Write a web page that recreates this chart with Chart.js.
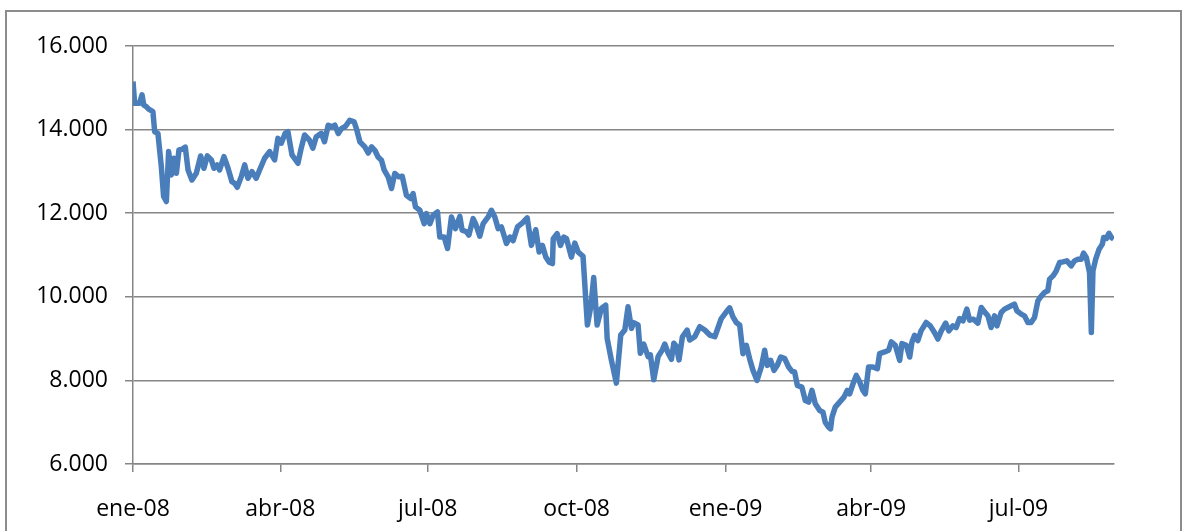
<!DOCTYPE html>
<html>
<head>
<meta charset="utf-8">
<script src="https://cdn.jsdelivr.net/npm/chart.js@4"></script>
<style>
  html, body { margin: 0; padding: 0; background: #fff; }
  #wrap { position: relative; width: 1185px; height: 531px; overflow: hidden; }
  #frame { position: absolute; left: 5px; top: 10px; width: 1173px; height: 540px; border: 2px solid #8c8c8c; }
  #chart { position: absolute; left: 0; top: 0; }
</style>
</head>
<body>
<div id="wrap">
  <div id="frame"></div>
  <canvas id="chart" width="1185" height="531"></canvas>
</div>
<script>
// days counted from 1 Jan 2008
const days = [
  0, 1, 4, 5.6, 6.6, 8.2, 9.7, 12.3, 13.4, 15.4, 17.5, 18.9, 20.6, 22, 23.7, 25.3, 26.8, 28.4, 30.3, 32.3,
  34, 36.4, 39.1, 41.8, 43.8, 45.9, 48.4, 50, 52, 53.5, 56.2, 58.7, 61.1, 62.8, 64.4, 66.9, 69, 71, 73.5, 76.1,
  78.2, 81.3, 84.4, 87.5, 89.5, 91.6, 94, 95.7, 98.2, 101.9, 103.9, 106, 109, 111.1, 113.2, 116.3, 118.3,
  120.6, 123, 124.7, 126.8, 128.8, 131.3, 133.9, 136.6, 138, 140.2, 143.2, 145.3, 147.4, 149.4, 151.4, 153.5,
  155.2, 157.6, 159.7, 161.7, 164.2, 166.3, 168.9, 171.6, 173, 174.5, 177.2, 179.9, 181.3, 183.4, 185.4, 188.1,
  189.5, 192.2, 194.3, 196.7, 199.2, 201.9, 203.3, 206, 207.5, 210.1, 211.6, 214.2, 216.3, 219.4, 221.4, 223.5,
  225.6, 227.6, 230.7, 232.8, 234.8, 237.5, 240,
  241, 243.5, 246.1, 248.8, 250.9, 252.9, 255, 257, 259.1, 259.6, 262, 264.1, 266.1, 267.8, 270.8, 272.9, 275,
  278, 280.7, 282.8, 284.6, 286.7, 289.3, 292, 292.9, 295.5, 298.6, 301.3, 303.8, 305.8, 307.9, 309.3, 312,
  313.4, 315.5, 318.2, 319.6, 321.7, 324.4, 327, 328.5, 330.6, 332.6, 334.1, 335.7, 337.3, 339.4, 342.3, 343.9,
  347, 350.1, 353.2, 356.3, 359.4,
  363.4, 366.5, 368.6, 370.6, 372.7, 374.8, 376.8, 378.9, 380.9, 383, 385.5, 388.1, 390.2, 391.8, 393.9, 396,
  398, 400.1, 402.6, 405, 407.1, 408.7, 410.4, 413.2, 415.3, 417.4, 419.4, 421.5, 424.2, 426.2, 427.6, 429.7,
  430.9, 431.8, 433.8, 436.5, 439.2, 441.2, 442.7, 444.8, 446.8, 448.9, 450.9, 452.4, 454.4, 457.1, 459.8,
  461.2, 464.3, 466.8, 468.4, 470.9, 473.6, 475, 477.7, 479.8, 481.2, 482.8, 484.8, 486.8, 490, 492.5, 495.1,
  497.2, 499.3, 502, 504, 506.5, 508.5, 510.6, 512.7, 515.1, 516.8, 519.2, 521.9, 524, 526, 528.1, 530.1,
  532.2, 533.7, 536.3, 538.4, 540.4, 542.5, 544.5, 546, 548.7, 550.7, 552.8, 554.8, 556.9, 559, 560.4, 563.1,
  565.1, 566.2, 568.3, 570.3, 572.4, 574.5, 576.9, 579.6, 581.6, 583.7, 585.8, 587.2, 588.9, 590.9, 592, 593,
  594.7, 596.8, 598.8, 599.6, 601.3, 602.9, 604.4, 605.8
];
const values = [
  15150, 14630, 14630, 14830, 14590, 14550, 14490, 14430, 13950, 13910, 13115, 12400, 12280, 13475, 12915, 13315, 12955, 13515, 13530, 13580,
  13035, 12795, 12955, 13370, 13075, 13370, 13275, 13075, 13155, 13035, 13355, 13075, 12755, 12715, 12620, 12875, 13155, 12835, 12995, 12835,
  13035, 13315, 13475, 13275, 13790, 13675, 13910, 13950, 13395, 13195, 13555, 13870, 13750, 13555, 13830, 13910, 13710,
  14105, 14065, 14105, 13905, 14025, 14080, 14225, 14185, 14025, 13705, 13585, 13440, 13585, 13505, 13345, 13265,
  13030, 12870, 12590, 12950, 12870, 12885, 12430, 12350, 12470, 12150, 12070, 11750, 11990, 11750, 11950, 12030,
  11430, 11430, 11155, 11910, 11630, 11925, 11595, 11555, 11475, 11870, 11750, 11450, 11750, 11910, 12070, 11910,
  11630, 11670, 11275, 11430, 11340, 11670, 11750,
  11785, 11890, 11230, 11605, 11070, 11230, 10950, 10830, 10795, 11390, 11510, 11230, 11430, 11390, 10950, 11285, 11070,
  10970, 9325, 9760, 10460, 9325, 9720, 9800, 9005, 8490, 7935, 9085, 9205, 9760, 9245, 9380, 9325,
  8650, 8870, 8570, 8610, 8015, 8570, 8730, 8870, 8650, 8505, 8890, 8810, 8490, 9045, 9205, 8965,
  9045, 9285, 9205, 9085, 9045,
  9480, 9640, 9735, 9520, 9385, 9320, 8640, 8840, 8520, 8240, 8000, 8320, 8720, 8360, 8480, 8240,
  8360, 8560, 8520, 8320, 8215, 8200, 7880, 7840, 7520, 7480, 7760, 7440, 7280, 7240, 7000, 6880,
  6840, 7120, 7360, 7480, 7600, 7760, 7680, 7920, 8120, 7960, 7760, 7680, 8320, 8320, 8280,
  8640, 8680, 8720, 8920, 8840, 8480, 8880, 8840, 8560, 8920, 9080, 8950, 9185, 9385, 9305, 9145,
  8990, 9185, 9370, 9185, 9305, 9265, 9480, 9425, 9705, 9440, 9465, 9370, 9745, 9640, 9545, 9265,
  9545, 9305, 9625, 9705, 9745, 9785, 9825, 9665, 9585, 9545, 9385, 9385, 9505, 9905, 9985, 10105,
  10145, 10420, 10500, 10620, 10820, 10835, 10860, 10740, 10860, 10900, 10900, 11045, 10940, 10580, 9145, 10620,
  10900, 11140, 11260, 11420, 11395, 11520, 11420, 11380
];
const tickDays = [0, 91, 182, 274, 366, 456, 547];
const tickLabels = ['ene-08', 'abr-08', 'jul-08', 'oct-08', 'ene-09', 'abr-09', 'jul-09'];

const axisGray = '#868686';
const font = { family: "'Open Sans'", size: 23 };

const ctx = document.getElementById('chart').getContext('2d');
const chart = new Chart(ctx, {
  type: 'line',
  data: {
    datasets: [{
      data: days.map((d, i) => ({ x: d, y: values[i] })),
      borderColor: '#4a7ebb',
      borderWidth: 5.5,
      pointRadius: 0,
      tension: 0,
      borderJoinStyle: 'round',
      fill: false,
    }]
  },
  options: {
    responsive: false,
    animation: false,
    layout: { padding: { top: 46, right: 71, bottom: 0, left: 0 } },
    plugins: { legend: { display: false }, tooltip: { enabled: false } },
    scales: {
      x: {
        type: 'linear',
        min: 0,
        max: 606,
        afterBuildTicks: (s) => { s.ticks = tickDays.map(v => ({ value: v })); },
        afterFit: (s) => { s.height = 67; },
        grid: { drawOnChartArea: false, color: axisGray, lineWidth: 1.5, tickLength: 8 },
        border: { color: axisGray, width: 1.5 },
        ticks: {
          autoSkip: false,
          maxRotation: 0,
          padding: 24,
          color: '#000',
          font: font,
          callback: (v) => tickLabels[tickDays.indexOf(v)]
        }
      },
      y: {
        min: 6000,
        max: 16000,
        afterFit: (s) => { s.width = 133; },
        grid: { color: axisGray, lineWidth: 1.5, tickLength: 8 },
        border: { color: axisGray, width: 1.5 },
        ticks: {
          stepSize: 2000,
          padding: 17,
          color: '#000',
          font: font,
          callback: (v) => (v / 1000).toFixed(3)
        }
      }
    }
  }
});
</script>
</body>
</html>
